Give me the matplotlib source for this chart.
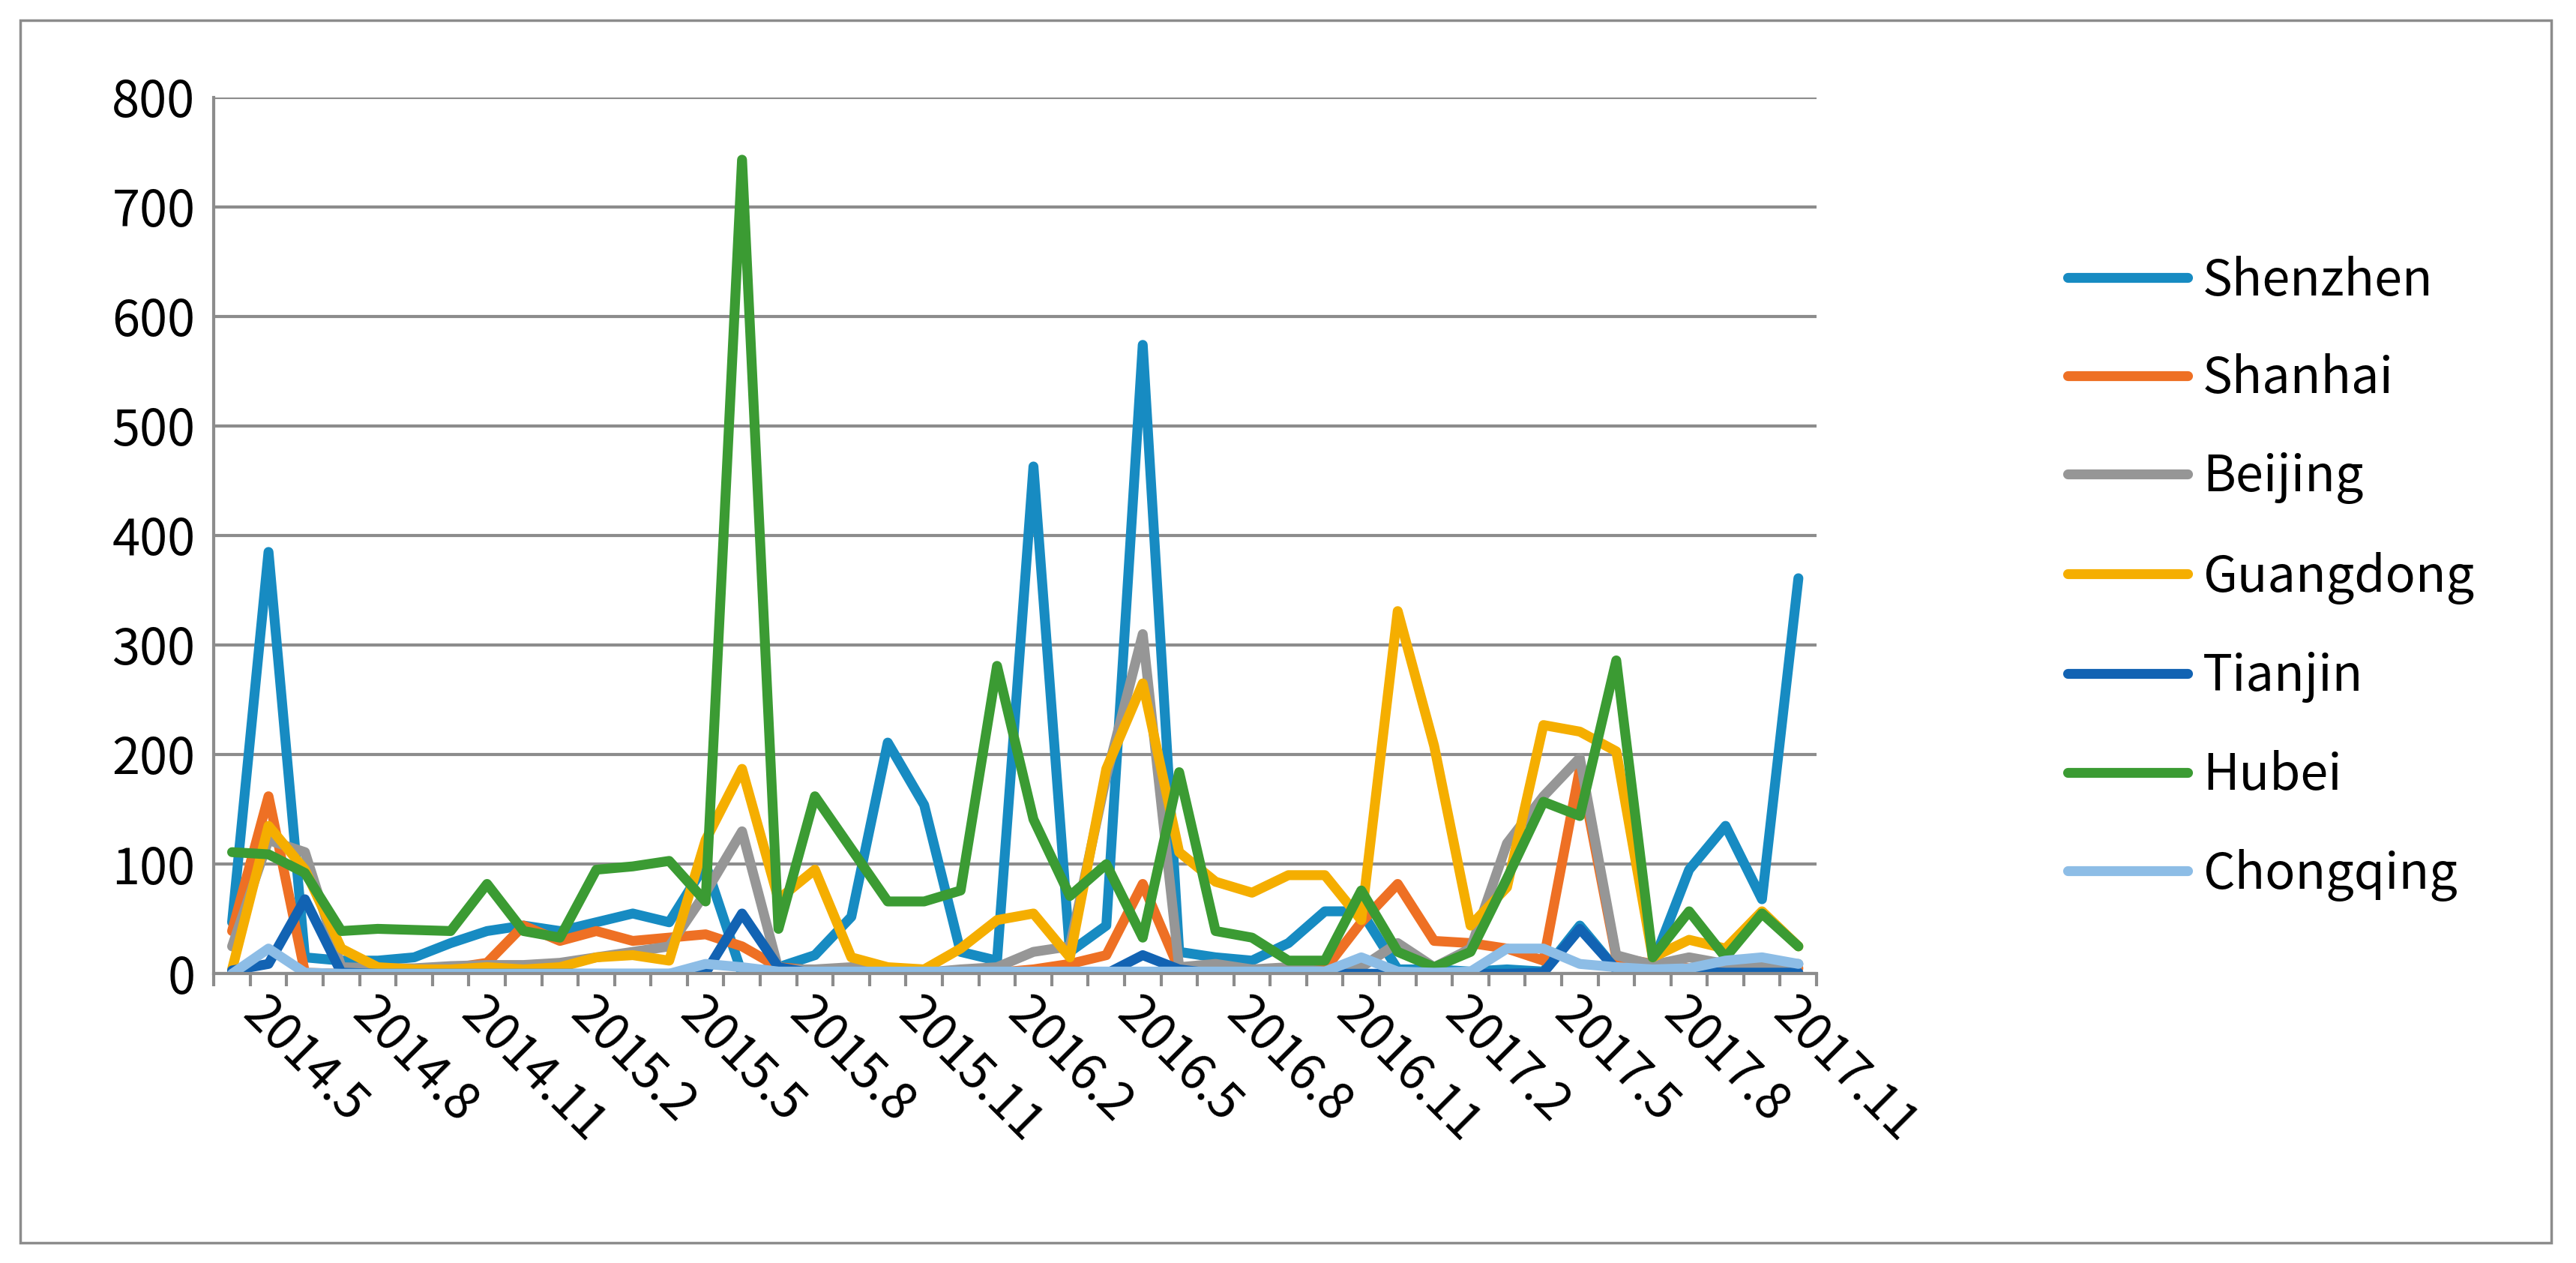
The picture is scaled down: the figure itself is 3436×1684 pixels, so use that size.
import matplotlib
matplotlib.use("Agg")
import matplotlib.pyplot as plt
from matplotlib.patches import Rectangle
import numpy as np

months = []
y, m = 2014, 4
for _ in range(44):
    months.append(f"{y}.{m}")
    m += 1
    if m > 12:
        m = 1; y += 1

shenzhen = [47,385,15,12,12,15,28,39,44,39,47,55,47,100,0,
            6,17,52,211,154,20,12,463,20,44,574,20,15,12,28,
            57,57,4,4,2,4,2,44,4,9,95,135,68,361]
shanhai = [39,162,1,0,0,3,5,10,44,30,39,30,33,36,25,6,
           3,2,1,1,1,1,4,9,17,82,4,2,2,2,
           4,47,82,30,28,23,12,187,15,9,5,5,5,5]
beijing = [25,122,111,6,5,5,7,8,8,10,15,20,25,74,130,4,
           4,6,1,1,4,6,20,25,180,310,6,9,4,6,
           2,6,28,6,23,119,162,197,17,8,15,9,8,9]
guangdong = [4,135,95,23,6,4,4,6,4,6,15,17,12,122,187,
             68,95,15,6,4,23,49,55,15,187,265,111,84,74,90,
             90,49,331,208,44,79,227,221,203,15,31,23,57,25]
tianjin = [3,9,68,1,0,0,0,0,0,0,0,0,0,1,55,
           6,0,0,0,0,0,0,0,0,0,17,4,0,0,0,
           0,0,0,0,0,0,1,41,4,2,2,1,1,1]
hubei = [111,109,92,39,41,40,39,82,39,33,95,98,103,66,743,
         41,162,114,66,66,76,281,141,71,100,33,184,39,33,12,
         12,76,20,6,20,87,157,144,286,15,57,15,55,25]
chongqing = [0,23,1,0,0,0,0,0,0,0,0,0,0,9,6,
             2,2,2,2,2,2,2,2,2,2,2,2,2,2,2,
             2,15,2,1,2,23,23,9,6,4,5,12,15,9]

names = ["Shenzhen","Shanhai","Beijing","Guangdong","Tianjin","Hubei","Chongqing"]
series = [shenzhen, shanhai, beijing, guangdong, tianjin, hubei, chongqing]
colors = ['#178BC2','#EE7024','#969696','#F5AE00','#1263B3','#3B9B33','#8DBDE6']

plt.rcParams['font.family'] = ['Noto Sans CJK SC', 'DejaVu Sans']
fig = plt.figure(figsize=(34.37, 16.84), dpi=100)
fig.patches.append(Rectangle((0.008, 0.016), 0.982, 0.968, transform=fig.transFigure,
                             fill=False, edgecolor='#8C8C8C', linewidth=2.5))
ax = fig.add_axes([0.083, 0.229, 0.622, 0.694])
x = np.arange(len(months))
for nm, s, c in zip(names, series, colors):
    ax.plot(x, s, color=c, linewidth=9.5, label=nm, solid_joinstyle='round', solid_capstyle='round')

ax.set_xlim(-0.5, len(months) - 0.5)
ax.set_ylim(0, 800)
ax.set_yticks(range(0, 801, 100))
ax.yaxis.grid(True, color='#8C8C8C', linewidth=3)
ax.set_axisbelow(True)
for sp in ['top', 'right']:
    ax.spines[sp].set_visible(False)
ax.spines['left'].set_color('#8C8C8C'); ax.spines['left'].set_linewidth(3)
ax.spines['bottom'].set_color('#8C8C8C'); ax.spines['bottom'].set_linewidth(3)
ax.tick_params(axis='y', length=0, labelsize=48, pad=18)
lab_idx = list(range(1, len(months), 3))
ax.set_xticks(lab_idx)
ax.set_xticklabels([months[i] for i in lab_idx], rotation=-45, ha='left', va='top',
                   rotation_mode='anchor', fontsize=48)
ax.tick_params(axis='x', which='major', length=0, pad=14)
ax.set_xticks(np.arange(-0.5, len(months), 1), minor=True)
ax.tick_params(axis='x', which='minor', length=12, width=3, color='#8C8C8C')

leg = fig.legend(loc='center left', bbox_to_anchor=(0.785, 0.542), frameon=False,
                 fontsize=48, handlelength=2.4, labelspacing=0.95, handletextpad=0.3)
for l in leg.get_lines():
    l.set_linewidth(9.5)
fig.savefig("out.png", dpi=100)
